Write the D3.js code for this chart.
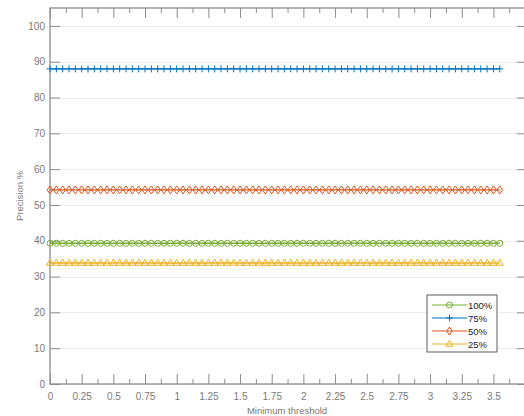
<!DOCTYPE html>
<html>
<head>
<meta charset="utf-8">
<script src="https://cdn.jsdelivr.net/npm/d3@7.9.0/dist/d3.min.js"></script>
<style>
  body { margin: 0; background: #fff; }
  svg { display: block; font-family: "Liberation Sans", Arial, sans-serif; }
</style>
</head>
<body>
<svg width="524" height="416"></svg>
<script>
// threshold values (x)
const thresholds = [0, 0.05, 0.1, 0.15, 0.2, 0.25, 0.3, 0.35, 0.4, 0.45, 0.5, 0.55, 0.6, 0.65, 0.7, 0.75,
  0.8, 0.85, 0.9, 0.95, 1, 1.05, 1.1, 1.15, 1.2, 1.25, 1.3, 1.35, 1.4, 1.45, 1.5, 1.55, 1.6, 1.65, 1.7, 1.75,
  1.8, 1.85, 1.9, 1.95, 2, 2.05, 2.1, 2.15, 2.2, 2.25, 2.3, 2.35, 2.4, 2.45, 2.5, 2.55, 2.6, 2.65, 2.7, 2.75,
  2.8, 2.85, 2.9, 2.95, 3, 3.05, 3.1, 3.15, 3.2, 3.25, 3.3, 3.35, 3.4, 3.45, 3.5, 3.55];

// precision % per series (flat across all thresholds)
const p100 = [39.3, 39.3, 39.3, 39.3, 39.3, 39.3, 39.3, 39.3, 39.3, 39.3, 39.3, 39.3, 39.3, 39.3, 39.3, 39.3, 39.3, 39.3, 39.3, 39.3, 39.3, 39.3, 39.3, 39.3, 39.3, 39.3, 39.3, 39.3, 39.3, 39.3, 39.3, 39.3, 39.3, 39.3, 39.3, 39.3, 39.3, 39.3, 39.3, 39.3, 39.3, 39.3, 39.3, 39.3, 39.3, 39.3, 39.3, 39.3, 39.3, 39.3, 39.3, 39.3, 39.3, 39.3, 39.3, 39.3, 39.3, 39.3, 39.3, 39.3, 39.3, 39.3, 39.3, 39.3, 39.3, 39.3, 39.3, 39.3, 39.3, 39.3, 39.3, 39.3];
const p75 = [88, 88, 88, 88, 88, 88, 88, 88, 88, 88, 88, 88, 88, 88, 88, 88, 88, 88, 88, 88, 88, 88, 88, 88, 88, 88, 88, 88, 88, 88, 88, 88, 88, 88, 88, 88, 88, 88, 88, 88, 88, 88, 88, 88, 88, 88, 88, 88, 88, 88, 88, 88, 88, 88, 88, 88, 88, 88, 88, 88, 88, 88, 88, 88, 88, 88, 88, 88, 88, 88, 88, 88];
const p50 = [54.2, 54.2, 54.2, 54.2, 54.2, 54.2, 54.2, 54.2, 54.2, 54.2, 54.2, 54.2, 54.2, 54.2, 54.2, 54.2, 54.2, 54.2, 54.2, 54.2, 54.2, 54.2, 54.2, 54.2, 54.2, 54.2, 54.2, 54.2, 54.2, 54.2, 54.2, 54.2, 54.2, 54.2, 54.2, 54.2, 54.2, 54.2, 54.2, 54.2, 54.2, 54.2, 54.2, 54.2, 54.2, 54.2, 54.2, 54.2, 54.2, 54.2, 54.2, 54.2, 54.2, 54.2, 54.2, 54.2, 54.2, 54.2, 54.2, 54.2, 54.2, 54.2, 54.2, 54.2, 54.2, 54.2, 54.2, 54.2, 54.2, 54.2, 54.2, 54.2];
const p25 = [33.8, 33.8, 33.8, 33.8, 33.8, 33.8, 33.8, 33.8, 33.8, 33.8, 33.8, 33.8, 33.8, 33.8, 33.8, 33.8, 33.8, 33.8, 33.8, 33.8, 33.8, 33.8, 33.8, 33.8, 33.8, 33.8, 33.8, 33.8, 33.8, 33.8, 33.8, 33.8, 33.8, 33.8, 33.8, 33.8, 33.8, 33.8, 33.8, 33.8, 33.8, 33.8, 33.8, 33.8, 33.8, 33.8, 33.8, 33.8, 33.8, 33.8, 33.8, 33.8, 33.8, 33.8, 33.8, 33.8, 33.8, 33.8, 33.8, 33.8, 33.8, 33.8, 33.8, 33.8, 33.8, 33.8, 33.8, 33.8, 33.8, 33.8, 33.8, 33.8];

const seriesNames = ["100%", "75%", "50%", "25%"];
const xTicks = [0, 0.25, 0.5, 0.75, 1, 1.25, 1.5, 1.75, 2, 2.25, 2.5, 2.75, 3, 3.25, 3.5];
const yTicks = [0, 10, 20, 30, 40, 50, 60, 70, 80, 90, 100];

const series = [
  { name: seriesNames[0], values: p100, color: "#77AC30", marker: "circle" },
  { name: seriesNames[1], values: p75, color: "#0072BD", marker: "plus" },
  { name: seriesNames[2], values: p50, color: "#D95319", marker: "diamond" },
  { name: seriesNames[3], values: p25, color: "#EDB120", marker: "triangle" }
];

const svg = d3.select("svg");
const margin = { top: 8, right: -3, bottom: 32, left: 50 };
const width = 524, height = 416;
const axisColor = "#8c8c8c";
const textColor = "#7a7a7a";

const x = d3.scaleLinear()
  .domain([0, 3.765])
  .range([margin.left, width - margin.right]);

const y = d3.scaleLinear()
  .domain([0, 105])
  .range([height - margin.bottom, margin.top]);

// y grid
svg.append("g")
  .selectAll("line")
  .data(yTicks)
  .join("line")
  .attr("x1", x.range()[0]).attr("x2", x.range()[1])
  .attr("y1", d => Math.round(y(d)) + 0.5).attr("y2", d => Math.round(y(d)) + 0.5)
  .attr("stroke", "#ececec");

// minor x ticks (every 0.125)
const minorX = xTicks.map(d => d + 0.125);

function styleAxis(g) {
  g.select(".domain").remove();
  g.selectAll(".tick line").attr("stroke", axisColor);
  g.selectAll(".tick text").attr("fill", textColor).attr("font-size", 10);
}

// bottom axis
svg.append("g")
  .attr("transform", `translate(0,${y(0)})`)
  .call(d3.axisBottom(x).tickValues(xTicks).tickSize(-10).tickPadding(9).tickFormat(d3.format("")))
  .call(styleAxis);
svg.append("g")
  .attr("transform", `translate(0,${y(0)})`)
  .call(d3.axisBottom(x).tickValues(minorX).tickSize(-5).tickFormat(""))
  .call(styleAxis);

// top axis ticks
svg.append("g")
  .attr("transform", `translate(0,${y(105)})`)
  .call(d3.axisTop(x).tickValues(xTicks).tickSize(-10).tickFormat(""))
  .call(styleAxis);
svg.append("g")
  .attr("transform", `translate(0,${y(105)})`)
  .call(d3.axisTop(x).tickValues(minorX).tickSize(-5).tickFormat(""))
  .call(styleAxis);

// left axis
svg.append("g")
  .attr("transform", `translate(${x(0)},0)`)
  .call(d3.axisLeft(y).tickValues(yTicks).tickSize(-10).tickPadding(5))
  .call(styleAxis);

// right axis ticks
svg.append("g")
  .attr("transform", `translate(${x.range()[1]},0)`)
  .call(d3.axisRight(y).tickValues(yTicks).tickSize(-10).tickFormat(""))
  .call(styleAxis);

// frame
svg.append("rect")
  .attr("x", x(0)).attr("y", y(105))
  .attr("width", x.range()[1] - x(0)).attr("height", y(0) - y(105))
  .attr("fill", "none").attr("stroke", axisColor).attr("stroke-width", 1.3);

// axis titles
svg.append("text")
  .attr("x", 287)
  .attr("y", 414)
  .attr("text-anchor", "middle")
  .attr("font-size", 9.5)
  .attr("fill", textColor)
  .text("Minimum threshold");

svg.append("text")
  .attr("transform", "rotate(-90)")
  .attr("x", -(y(0) + y(105)) / 2)
  .attr("y", 23)
  .attr("text-anchor", "middle")
  .attr("font-size", 9.5)
  .attr("fill", textColor)
  .text("Precision %");

// markers
const markerPath = {
  circle: "M3,0A3,3 0 1,1 -3,0A3,3 0 1,1 3,0Z",
  plus: "M-3.5,0H3.5M0,-3.5V3.5",
  diamond: "M0,-4L2.8,0L0,4L-2.8,0Z",
  triangle: "M0,-3.8L3.5,2.3L-3.5,2.3Z"
};

const line = d3.line()
  .x((d, i) => x(thresholds[i]))
  .y(d => y(d));

series.forEach(s => {
  const g = svg.append("g");
  g.append("path")
    .datum(s.values)
    .attr("fill", "none")
    .attr("stroke", s.color)
    .attr("stroke-width", 1.4)
    .attr("d", line);
  g.selectAll("path.mk")
    .data(s.values)
    .join("path")
    .attr("class", "mk")
    .attr("transform", (d, i) => `translate(${x(thresholds[i])},${y(d)})`)
    .attr("d", markerPath[s.marker])
    .attr("fill", "none")
    .attr("stroke", s.color)
    .attr("stroke-width", 1);
});

// legend
const lg = svg.append("g").attr("transform", "translate(427,295)");
lg.append("rect")
  .attr("width", 70).attr("height", 57)
  .attr("fill", "#fff").attr("stroke", "#333").attr("stroke-width", 0.8);
series.forEach((s, i) => {
  const ry = 10 + i * 13;
  lg.append("line")
    .attr("x1", 5).attr("x2", 40).attr("y1", ry).attr("y2", ry)
    .attr("stroke", s.color).attr("stroke-width", 1.2);
  lg.append("path")
    .attr("transform", `translate(22.5,${ry})`)
    .attr("d", markerPath[s.marker])
    .attr("fill", "none").attr("stroke", s.color);
  lg.append("text")
    .attr("x", 41).attr("y", ry + 3.5)
    .attr("font-size", 9.5)
    .attr("fill", "#222")
    .text(s.name);
});
</script>
</body>
</html>
